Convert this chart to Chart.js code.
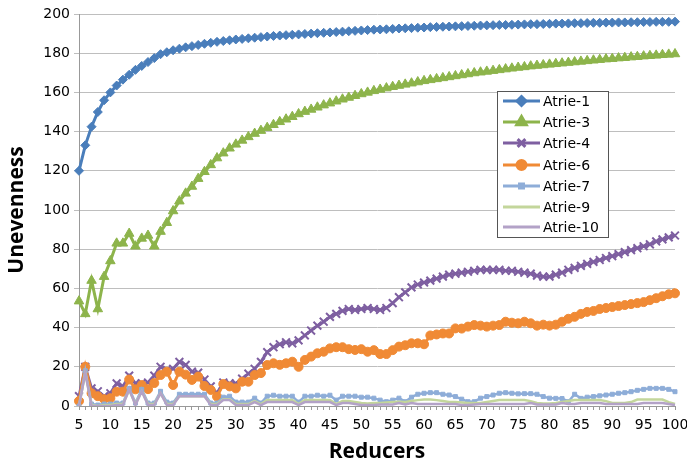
<!DOCTYPE html>
<html>
<head>
<meta charset="utf-8">
<script src="https://cdn.jsdelivr.net/npm/chart.js@4.4.0/dist/chart.umd.min.js"></script>
<style>
  html, body { margin: 0; padding: 0; background: #fff; }
  #wrap { width: 687px; height: 465px; position: relative; }
</style>
</head>
<body>
<div id="wrap"><canvas id="chart"></canvas></div>
<script>
// reducers 5..100
const reducers = [];
for (let r = 5; r <= 100; r++) reducers.push(r);

const yTicks = [0, 20, 40, 60, 80, 100, 120, 140, 160, 180, 200];

const atrie1 = [
    120, 133, 142.5, 150, 156, 160, 163.5, 166.5, 169, 171.5,
    173.5, 175.5, 177.5, 179.5, 180.5, 181.5, 182.3, 183, 183.6, 184.2,
    184.8, 185.3, 185.8, 186.2, 186.6, 187, 187.3, 187.6, 187.9, 188.2,
    188.5, 188.8, 189, 189.2, 189.4, 189.6, 189.8, 190, 190.2, 190.4,
    190.6, 190.8, 191, 191.2, 191.4, 191.6, 191.8, 192, 192.1, 192.2,
    192.4, 192.6, 192.7, 192.8, 193, 193.1, 193.3, 193.4, 193.5, 193.6,
    193.7, 193.8, 193.9, 194, 194.1, 194.2, 194.3, 194.4, 194.4, 194.5,
    194.6, 194.7, 194.8, 194.8, 194.9, 195, 195.1, 195.1, 195.2, 195.3,
    195.3, 195.4, 195.5, 195.5, 195.6, 195.6, 195.7, 195.7, 195.8, 195.8,
    195.9, 195.9, 196, 196, 196, 196.1
];
const atrie3 = [
    53.5, 47, 64, 49.5, 66, 74, 83, 83, 88, 81.5,
    85.5, 87, 81.5, 89, 93.5, 99.5, 104.5, 108.5, 112, 116,
    119.5, 123, 126.5, 129, 131.5, 133.5, 135.5, 137.3, 139, 140.5,
    142, 143.5, 145, 146.3, 147.6, 149, 150.2, 151.3, 152.4, 153.5,
    154.5, 155.5, 156.5, 157.4, 158.3, 159.2, 160, 160.8, 161.5, 162.2,
    162.9, 163.5, 164.1, 164.7, 165.3, 165.9, 166.4, 166.9, 167.4, 167.9,
    168.4, 168.9, 169.4, 169.9, 170.3, 170.7, 171.1, 171.5, 171.9, 172.3,
    172.7, 173, 173.4, 173.7, 174, 174.3, 174.6, 174.9, 175.2, 175.5,
    175.8, 176.1, 176.4, 176.7, 177, 177.2, 177.5, 177.7, 178, 178.2,
    178.5, 178.7, 178.9, 179.2, 179.4, 179.6
];
const atrie4 = [
    5, 20, 9, 7.5, 5, 6.5, 11.5, 10, 15.5, 11.5,
    11.5, 12, 15.5, 20, 18.5, 19, 22.5, 21, 17.5, 17,
    13.5, 10, 6.5, 12, 11.5, 11.5, 14, 16.5, 19, 22.5,
    27.5, 30, 31.5, 32.5, 32, 33.5, 36, 38.5, 41, 43,
    45.5, 47, 48.5, 49.5, 49, 49.5, 50, 49.5, 49, 50,
    52.5, 55.5, 58, 60.5, 62, 63, 64, 65, 66, 67,
    67.5, 68, 68.5, 69, 69.5, 69.5, 69.5, 69.5, 69, 69,
    68.5, 68, 67.5, 66.5, 66, 66, 67, 68, 69.5, 70.5,
    71.5, 72.5, 73.5, 74.5, 75.5, 76.5, 77.5, 78.5, 79.5, 80.5,
    81.5, 82.5, 84, 85, 86, 87
];
const atrie6 = [
    2.5, 20, 6.5, 5, 3.5, 4, 7.3, 7.3, 13.5, 8.5,
    10.7, 8.6, 11.7, 15.8, 17.5, 10.7, 17.5, 16, 13.3, 15,
    10.2, 8.2, 4.8, 11.2, 10, 9, 12.4, 12.4, 15.8, 16.8,
    20.9, 21.8, 21, 21.8, 22.6, 20, 23.5, 25.2, 26.9, 27.7,
    29.4, 30, 30, 29, 28.6, 29, 27.7, 28.5, 26.5, 26.5,
    28.5, 30.3, 31, 32, 32, 31.5, 36, 36.5, 37, 37,
    39.6, 39.5, 40.5, 41.3, 41, 40.5, 41, 41.3, 43, 42.5,
    42.2, 43, 42.2, 41, 41.5, 41, 41.5, 43, 44.5, 45.5,
    47, 48, 48.5, 49.5, 50, 50.5, 51, 51.5, 52, 52.5,
    53, 54, 55, 56, 57, 57.5
];
const atrie7 = [
    0, 18, 1, 0.5, 1, 1, 1.5, 1.5, 9, 1.5,
    8.5, 1.5, 1.5, 7.5, 2, 1.5, 6, 6, 6, 6,
    6, 1.5, 1.5, 4.5, 5, 2, 2, 2, 4, 1.5,
    5, 5.5, 5, 5, 5, 2, 5, 5, 5.5, 5,
    5.5, 3, 5, 5, 5, 4.5, 4.5, 4, 3, 2.2,
    3, 4, 2.2, 4.5, 6, 6.5, 6.8, 6.8, 6, 5.6,
    4.8, 3.5, 2.2, 2.2, 4, 4.8, 5.6, 6.5, 6.8, 6.5,
    6.2, 6.3, 6.3, 6, 4.8, 4, 3.9, 3.8, 2.2, 6,
    3.9, 4.5, 4.8, 5.2, 5.6, 6, 6.5, 6.8, 7.3, 8,
    8.5, 9, 9, 9, 8.5, 7.3
];
const atrie9 = [
    0, 17, 0.5, 0, 0.5, 0.5, 1, 1, 8, 1,
    7.5, 1, 1, 6.5, 1, 1, 5, 5, 5, 5,
    5, 1, 1, 3.5, 3.5, 1, 1, 1, 2.5, 1,
    3, 3, 3, 3, 3, 1, 3, 3, 3, 3,
    3, 1, 2.5, 2.5, 2, 1.5, 1.3, 1.5, 1.5, 1.8,
    2, 2.2, 2, 2.5, 3, 3.3, 3.3, 3, 2.5, 2,
    2, 1.8, 1.5, 1.5, 1.5, 2, 2.5, 3, 3, 3,
    3, 3, 2.5, 1.5, 1.3, 1.3, 1.5, 2, 2.5, 3,
    3, 3, 3, 3, 2.5, 1.5, 1.5, 1.5, 2, 3.3,
    3.3, 3.3, 3.3, 3.3, 2, 1
];
const atrie10 = [
    0, 17, 0, 0, 0, 0, 0.5, 0.5, 8.5, 0.5,
    7.5, 0.5, 0.5, 6.5, 0.5, 0.5, 5, 5, 5, 5,
    5, 0.5, 0.5, 3, 3, 0.5, 0.5, 0.5, 2, 0.5,
    2, 2, 2, 2, 2, 0.5, 2, 2, 2, 2,
    2, 0.5, 1.5, 1.5, 1, 0.5, 0.5, 0.5, 0.8, 0.8,
    0.8, 1.5, 0.8, 1.5, 1, 1, 1, 1, 1, 1,
    1, 0.5, 0.5, 0.8, 1, 1, 1, 1, 1, 1,
    1, 1, 1.5, 0.8, 0.8, 0.8, 0.8, 1.5, 1, 1,
    1.5, 1.5, 1.5, 1.5, 1, 1, 1, 1, 1, 1,
    1.5, 1.5, 1.5, 1.5, 1, 0.5
];

const seriesNames = ['Atrie-1', 'Atrie-3', 'Atrie-4', 'Atrie-6', 'Atrie-7', 'Atrie-9', 'Atrie-10'];
const seriesData = [atrie1, atrie3, atrie4, atrie6, atrie7, atrie9, atrie10];
const seriesColors = ['#4A7EBB', '#8DB44B', '#7E5FA1', '#F08A35', '#8EADD8', '#C3D69B', '#B3A2C7'];
const seriesPoints = ['rectRot', 'triangle', 'crossRot', 'circle', 'rect', false, false];
const seriesRadius = [4.5, 5.5, 5.5, 4.5, 2.8, 0, 0];

const fontFamily = '"DejaVu Sans", sans-serif';

// legend drawn inside the plot, like the original
const boxLegend = {
    id: 'boxLegend',
    afterDraw(chart) {
        const ctx = chart.ctx;
        const x0 = 497, y0 = 91, w = 111, h = 146;
        ctx.save();
        ctx.fillStyle = '#fff';
        ctx.fillRect(x0, y0, w, h);
        ctx.strokeStyle = '#555';
        ctx.lineWidth = 1;
        ctx.strokeRect(x0 + 0.5, y0 + 0.5, w, h);
        ctx.font = '14px ' + fontFamily;
        ctx.textBaseline = 'middle';
        ctx.textAlign = 'left';
        const rowY = [101, 122, 143, 165, 186, 207, 227];
        seriesNames.forEach((name, i) => {
            const y = rowY[i];
            ctx.strokeStyle = seriesColors[i];
            ctx.lineWidth = 3;
            ctx.beginPath();
            ctx.moveTo(503, y);
            ctx.lineTo(540, y);
            ctx.stroke();
            if (seriesPoints[i]) {
                ctx.fillStyle = seriesColors[i];
                ctx.strokeStyle = seriesColors[i];
                Chart.helpers.drawPoint(ctx, {
                    pointStyle: seriesPoints[i],
                    radius: seriesRadius[i],
                    rotation: 0,
                    borderWidth: 2
                }, 521.5, y);
            }
            ctx.fillStyle = '#000';
            ctx.fillText(name, 543, y + 1);
        });
        ctx.restore();
    }
};

const datasets = seriesNames.map((name, i) => ({
    label: name,
    data: seriesData[i],
    borderColor: seriesColors[i],
    backgroundColor: seriesColors[i],
    borderWidth: i < 4 ? 3 : 2.5,
    pointStyle: seriesPoints[i] || 'circle',
    pointRadius: seriesRadius[i],
    pointBorderWidth: seriesPoints[i] === 'crossRot' ? 2 : 1,
    pointHoverRadius: seriesRadius[i],
    tension: 0,
    fill: false,
    order: seriesNames.length - i
}));

new Chart(document.getElementById('chart'), {
    type: 'line',
    data: { labels: reducers, datasets: datasets },
    options: {
        responsive: true,
        maintainAspectRatio: false,
        animation: false,
        layout: { padding: { left: 0, right: 12, top: 14, bottom: 0 } },
        plugins: {
            legend: { display: false },
            tooltip: { enabled: false }
        },
        scales: {
            x: {
                offset: false,
                grid: {
                    drawOnChartArea: false,
                    drawTicks: true,
                    tickLength: 4,
                    color: '#999'
                },
                border: { color: '#999', width: 1 },
                ticks: {
                    autoSkip: false,
                    maxRotation: 0,
                    minRotation: 0,
                    padding: 7,
                    color: '#000',
                    font: { family: fontFamily, size: 14 },
                    callback: function(value) {
                        const r = reducers[value];
                        return r % 5 === 0 ? String(r) : '';
                    }
                },
                title: {
                    display: true,
                    text: 'Reducers',
                    color: '#000',
                    padding: { top: 0, bottom: 0 },
                    font: { family: '"Open Sans", sans-serif', size: 21, weight: 'bold' }
                },
                afterFit: function(scale) {
                    scale.height = 59;
                    scale.paddingLeft = 0;
                    scale.paddingRight = 0;
                }
            },
            y: {
                min: 0,
                max: 200,
                afterBuildTicks: function(scale) {
                    scale.ticks = yTicks.map(v => ({ value: v }));
                },
                grid: {
                    color: '#BEBEBE',
                    lineWidth: 1,
                    tickLength: 5
                },
                border: { color: '#999', width: 1 },
                ticks: {
                    padding: 4,
                    color: '#000',
                    font: { family: fontFamily, size: 14 }
                },
                title: {
                    display: true,
                    text: 'Unevenness',
                    color: '#000',
                    padding: { top: 4, bottom: 0 },
                    font: { family: '"Open Sans", sans-serif', size: 21, weight: 'bold' }
                },
                afterFit: function(scale) { scale.width = 79; }
            }
        }
    },
    plugins: [boxLegend]
});
</script>
</body>
</html>
